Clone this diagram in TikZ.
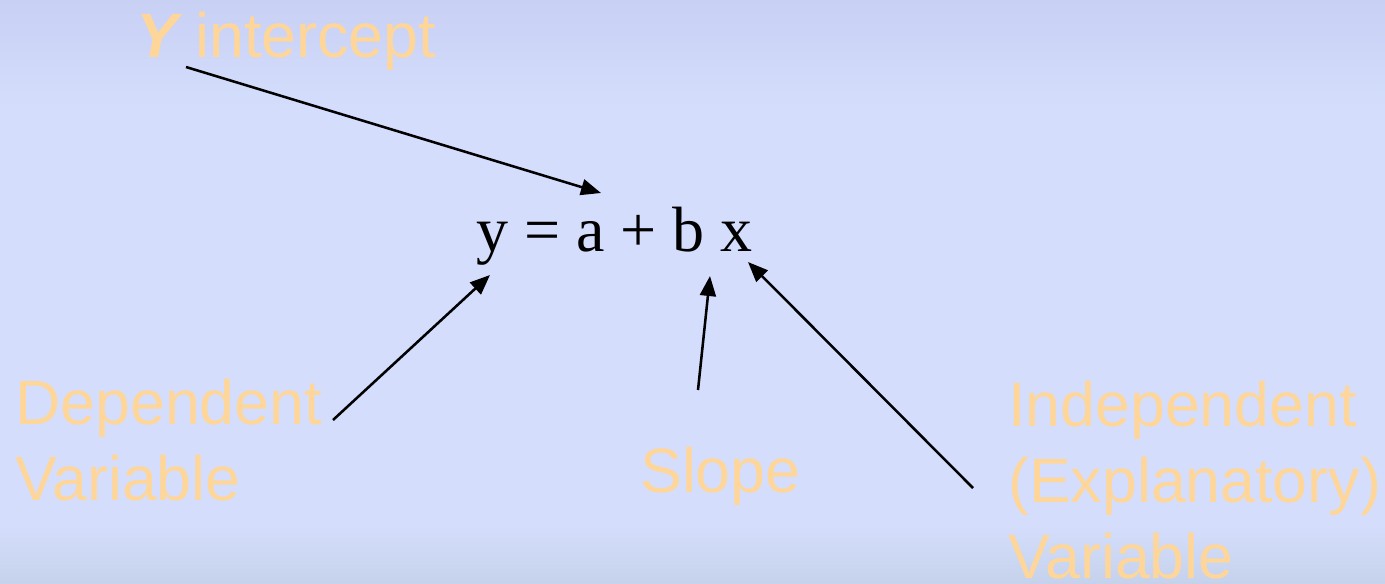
\documentclass[tikz,border=0pt]{standalone}
\usepackage{fontspec}
\setmainfont{Liberation Serif}
\newfontfamily\labelfont{Liberation Sans}
\usetikzlibrary{arrows.meta}
\definecolor{bgmain}{HTML}{D4DEFC}
\definecolor{bgtop}{HTML}{C8D0F4}
\definecolor{bgbot}{HTML}{C6D2EC}
\definecolor{labelcol}{HTML}{FFD699}
\tikzset{
  lbl/.style={anchor=base west, inner sep=0pt, text=labelcol, font=\labelfont\fontsize{47}{57}\selectfont, align=left},
  eqn/.style={anchor=base west, inner sep=0pt, font=\fontsize{48}{54}\selectfont},
  pointer/.style={draw=black, line width=1.9pt, -{Triangle[length=15pt,width=12pt]}}
}
\begin{document}
\begin{tikzpicture}[x=0.75pt,y=-0.75pt]
\useasboundingbox (0,0) rectangle (1385,583);
\fill[bgmain] (0,0) rectangle (1385,583);
\shade[top color=bgtop, bottom color=bgmain] (0,0) rectangle (1385,110);
\shade[top color=bgmain, bottom color=bgbot] (0,525) rectangle (1385,583);
\node[lbl] (yint) at (136,57) {{\bfseries\itshape Y} intercept};
\node[lbl] (dep) at (15,500) {Dependent\\Variable};
\node[lbl] (slope) at (640,492) {Slope};
\node[lbl] (indep) at (1008,578) {Independent\\(Explanatory)\\Variable};
\node[eqn] (eq) at (476,251) {y = a + b x};
\coordinate (s1) at (186,67);  \coordinate (e1) at (601,193);
\coordinate (s2) at (333,420); \coordinate (e2) at (490,275);
\coordinate (s3) at (698,390); \coordinate (e3) at (710,276);
\coordinate (s4) at (973,488); \coordinate (e4) at (748,262);
\draw[pointer] (s1) -- (e1);
\draw[pointer] (s2) -- (e2);
\draw[pointer] (s3) -- (e3);
\draw[pointer] (s4) -- (e4);
\end{tikzpicture}
\end{document}
